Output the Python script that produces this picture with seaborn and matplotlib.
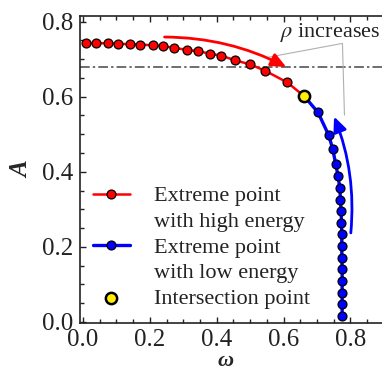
import numpy as np
import pandas as pd
import matplotlib
matplotlib.use("Agg")
import matplotlib.pyplot as plt
import seaborn as sns

# ---- data ----
high_w = [0.009, 0.040, 0.074, 0.104, 0.141, 0.171, 0.208, 0.238, 0.273, 0.310,
          0.344, 0.379, 0.414, 0.455, 0.500, 0.545, 0.611, 0.662]
high_A = [0.743, 0.743, 0.742, 0.741, 0.740, 0.739, 0.737, 0.735, 0.730, 0.725,
          0.721, 0.715, 0.709, 0.697, 0.686, 0.669, 0.638, 0.601]
low_w = [0.662, 0.703, 0.735, 0.747, 0.756, 0.763, 0.768, 0.770, 0.772, 0.773,
         0.774, 0.774, 0.774, 0.775, 0.775, 0.775, 0.775, 0.775]
low_A = [0.601, 0.558, 0.497, 0.460, 0.420, 0.388, 0.357, 0.326, 0.295, 0.264,
         0.233, 0.202, 0.171, 0.140, 0.109, 0.078, 0.047, 0.016]
inter_w = [0.662]
inter_A = [0.601]
ref_level = 0.679

label_high = ["Extreme point", "with high energy"]
label_low = ["Extreme point", "with low energy"]
label_inter = "Intersection point"
annot_text = r"$\rho$ increases"
x_ticks = [0.0, 0.2, 0.4, 0.6, 0.8]
y_ticks = [0.0, 0.2, 0.4, 0.6, 0.8]

sns.set_style("ticks")
plt.rcParams['font.family'] = ['Liberation Serif', 'DejaVu Serif']
plt.rcParams['mathtext.fontset'] = 'stix'

fig = plt.figure(figsize=(3.82, 3.71), dpi=100)
ax = fig.add_axes([80/382, 1-323/371, 1.005-80/382, (323-16)/371])

df_high = pd.DataFrame({"w": high_w, "A": high_A})
df_low = pd.DataFrame({"w": low_w, "A": low_A})
df_int = pd.DataFrame({"w": inter_w, "A": inter_A})

ax.axhline(ref_level, color="#6e6e6e", lw=1.4, dashes=(5, 1.6, 1.2, 1.6), zorder=1)

sns.lineplot(data=df_high, x="w", y="A", sort=False, estimator=None, ax=ax,
             color="#ff0000", lw=1.8, marker="o", markersize=6.4,
             markerfacecolor="#ff0000", markeredgecolor="black", markeredgewidth=0.9,
             zorder=3)
sns.lineplot(data=df_low, x="w", y="A", sort=False, estimator=None, ax=ax,
             color="#0000ff", lw=2.4, marker="o", markersize=6.4,
             markerfacecolor="#0000ff", markeredgecolor="black", markeredgewidth=0.9,
             zorder=3)
sns.scatterplot(data=df_int, x="w", y="A", ax=ax, color="#ffee00", s=66,
                edgecolor="black", linewidth=1.8, zorder=5)

# curved arrows
ax.annotate("", xy=(0.608, 0.679), xytext=(0.244, 0.759),
            arrowprops=dict(arrowstyle="-|>,head_length=0.9,head_width=0.4",
                            color="#ff0000", lw=2.0,
                            connectionstyle="arc3,rad=-0.12", shrinkA=0, shrinkB=0),
            zorder=4)
ax.annotate("", xy=(0.751, 0.547), xytext=(0.801, 0.237),
            arrowprops=dict(arrowstyle="-|>,head_length=0.9,head_width=0.4",
                            color="#0000ff", lw=2.0,
                            connectionstyle="arc3,rad=0.12", shrinkA=0, shrinkB=0),
            zorder=4)

# leader lines for annotation
ax.plot([0.553, 0.776, 0.782], [0.705, 0.742, 0.551], color="#b0b0b0", lw=0.8, zorder=2)
ax.text(0.589, 0.771, annot_text, fontsize=16, ha="left", va="center", color="#222222")

ax.set_xlim(-0.009, 0.9)
ax.set_ylim(-0.003, 0.815)
ax.set_xticks(x_ticks)
ax.set_yticks(y_ticks)
ax.set_xticklabels([f"{v:.1f}" for v in x_ticks])
ax.set_yticklabels([f"{v:.1f}" for v in y_ticks])
ax.xaxis.set_minor_locator(matplotlib.ticker.MultipleLocator(0.05))
ax.yaxis.set_minor_locator(matplotlib.ticker.MultipleLocator(0.05))
ax.tick_params(which="both", direction="in", top=True, right=False, labelsize=18,
               color="#222222", labelcolor="#222222", width=1.0)
ax.tick_params(which="major", length=4.5)
ax.tick_params(which="minor", length=3)
ax.tick_params(axis="x", pad=4)
ax.tick_params(axis="y", pad=5)
for s in ["left", "bottom", "top"]:
    ax.spines[s].set_linewidth(1.2)
    ax.spines[s].set_color("#222222")
ax.spines["right"].set_visible(False)

ax.set_xlabel("ω", fontsize=16, fontstyle="italic", fontweight="bold")
ax.set_ylabel("A", fontsize=18, fontstyle="italic", fontweight="bold")
ax.xaxis.set_label_coords(0.48, -0.140)
ax.xaxis.label.set_verticalalignment("baseline")
ax.yaxis.set_label_coords(-0.192, 0.5)
ax.yaxis.label.set_verticalalignment("center")

# legend (two-line labels split so the handle sits on the first line)
lines = ax.get_lines()
h_high = [l for l in lines if l.get_color() == "#ff0000"][0]
h_low = [l for l in lines if l.get_color() == "#0000ff"][0]
h_int = ax.collections[0]
blank = matplotlib.lines.Line2D([], [], color="none")
handles = [h_high, blank, h_low, blank, h_int]
labels = [label_high[0], label_high[1], label_low[0], label_low[1], label_inter]
leg = ax.legend(handles, labels, loc="upper left", bbox_to_anchor=(0.043, 0.447),
                frameon=False, fontsize=16, handlelength=1.65, handletextpad=1.1,
                labelspacing=0.23, borderpad=0, borderaxespad=0)
for t in leg.get_texts():
    t.set_color("#222222")

fig.savefig("out.png", dpi=100)
